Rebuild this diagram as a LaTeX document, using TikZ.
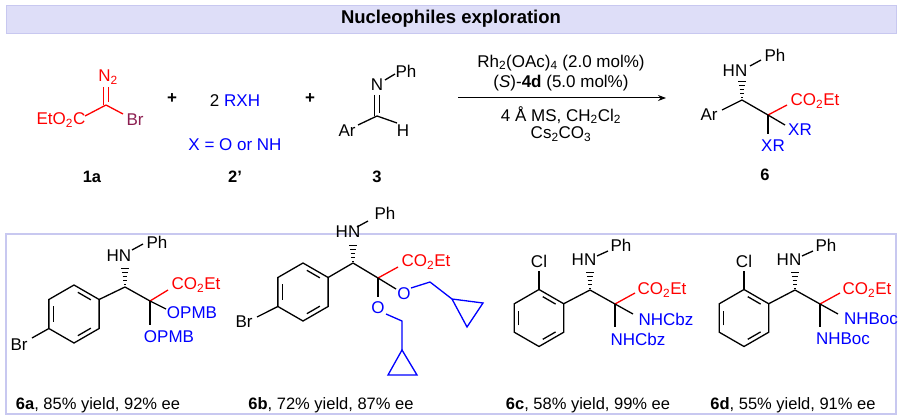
\documentclass[tikz,border=0pt]{standalone}
\usepackage{fontspec}
\setmainfont{Liberation Sans}
\usetikzlibrary{calc,arrows.meta}
\definecolor{hdrfill}{RGB}{222,222,248}
\definecolor{hdrline}{RGB}{200,200,240}
\definecolor{brc}{RGB}{140,30,80}
\definecolor{rd}{RGB}{255,0,0}
\definecolor{bl}{RGB}{0,0,255}
\tikzset{
  bond/.style={line width=1.3pt},
  lbl/.style={inner sep=0.5pt,font=\fontsize{17}{19}\selectfont},
  captxt/.style={inner sep=0pt,font=\fontsize{16.5}{19}\selectfont},
}
% hashed bond from stereocentre #1 towards #2
\newcommand\hashb[2]{\foreach \t/\w in {0.1/0.8,0.3/1.6,0.5/2.4,0.7/3.2,0.9/4}{\draw[line width=1pt] ($(#1)!\t!(#2)+(-\w,0)$) -- ($(#1)!\t!(#2)+(\w,0)$);}}
% benzene ring: centre, radius
\newcommand\benz[2]{%
  \draw[bond] ($(#1)+(30:#2)$) -- ($(#1)+(90:#2)$) -- ($(#1)+(150:#2)$) -- ($(#1)+(210:#2)$) -- ($(#1)+(270:#2)$) -- ($(#1)+(330:#2)$) -- cycle;
  \foreach \a in {30,150,270}{\draw[bond] ($(#1)+(\a+10:0.76*#2)$) -- ($(#1)+(\a+50:0.76*#2)$);}}
\begin{document}
\begin{tikzpicture}[x=1pt,y=-1pt]
\useasboundingbox (0,0) rectangle (902,417);
% header and frame
\draw[hdrline,fill=hdrfill] (6,5) rectangle (896,33);
\node[font=\fontsize{18.5}{20}\selectfont\bfseries] (title) at (451,19) {Nucleophiles exploration};
\draw[hdrline,line width=1.5pt] (6,234) rectangle (896,414);

% 1a
\coordinate (c1) at (106,105);
\node[lbl,rd] (n2) at (108,77) {N\textsubscript{2}};
\draw[bond,rd] (103.5,87) -- (103.5,105) (108.5,87) -- (108.5,102);
\node[lbl,rd] (est1) at (61,120) {EtO\textsubscript{2}C};
\node[lbl,brc] (br1) at (135,120) {Br};
\draw[bond,rd] (c1) -- (85,116);
\draw[bond,rd] (c1) -- (123,114);
\node[captxt] (l1a) at (92,177) {\textbf{1a}};
\node[lbl] (p1) at (172,99) {\textbf{+}};

% 2'
\node[lbl] (rxh) at (235,101) {2 \textcolor{bl}{RXH}};
\node[lbl,bl] (xdef) at (235,145) {X = O or NH};
\node[captxt] (l2) at (235,177) {\textbf{2'}};
\node[lbl] (p2) at (310,99) {\textbf{+}};

% 3
\node[lbl] (n3) at (377,85) {N};
\node[lbl] (ph3) at (406,71) {Ph};
\coordinate (c3) at (377,116);
\draw[bond] (385,80) -- (395,74);
\draw[bond] (374.5,95) -- (374.5,116) (379.5,95) -- (379.5,113);
\node[lbl] (ar3) at (347,131) {Ar};
\node[lbl] (h3) at (403,131) {H};
\draw[bond] (c3) -- (358,125);
\draw[bond] (c3) -- (397,123);
\node[captxt] (l3) at (377,177) {\textbf{3}};

% arrow and conditions
\coordinate (a0) at (458,98);
\coordinate (a1) at (666,98);
\draw[line width=1pt,-{Stealth[length=8pt,width=6pt]}] (a0) -- (a1);
\node[lbl] (cond1) at (561,63) {Rh\textsubscript{2}(OAc)\textsubscript{4} (2.0 mol\%)};
\node[lbl] (cond2) at (561,83) {(\textit{S})-\textbf{4d} (5.0 mol\%)};
\node[lbl] (cond3) at (561,115) {4 Å MS, CH\textsubscript{2}Cl\textsubscript{2}};
\node[lbl] (cond4) at (561,134) {Cs\textsubscript{2}CO\textsubscript{3}};

% 6
\coordinate (s6) at (742,100);
\coordinate (q6) at (768,115);
\node[lbl] (hn6) at (735,71) {HN};
\node[lbl] (ph6) at (775,55) {Ph};
\draw[bond] (750,66) -- (761,60);
\hashb{s6}{742,80}
\node[lbl] (ar6) at (709,115) {Ar};
\draw[bond] (s6) -- (722,110);
\draw[bond] (s6) -- (q6);
\draw[bond,rd] (q6) -- (787,105);
\node[lbl,rd] (co6) at (815,101) {CO\textsubscript{2}Et};
\draw[bond] (q6) -- (785,125);
\node[lbl,bl] (xr6a) at (800,130) {XR};
\draw[bond] (q6) -- (768,134);
\node[lbl,bl] (xr6b) at (773,146) {XR};
\node[captxt] (l6) at (765,175) {\textbf{6}};

% 6a
\coordinate (r6a) at (74,314);
\benz{r6a}{29}
\coordinate (s6a) at (125,287);
\coordinate (q6a) at (150,301);
\draw[bond] ($(r6a)+(330:29)$) -- (s6a);
\draw[bond] ($(r6a)+(150:29)$) -- (32,338);
\node[lbl] (br6a) at (19,345) {Br};
\node[lbl] (hn6a) at (119,256) {HN};
\node[lbl] (ph6a) at (157,242) {Ph};
\draw[bond] (132,250) -- (143,244);
\hashb{s6a}{125,266}
\draw[bond] (s6a) -- (q6a);
\draw[bond,rd] (q6a) -- (168,290);
\node[lbl,rd] (co6a) at (196,285) {CO\textsubscript{2}Et};
\draw[bond] (q6a) -- (166,309);
\node[lbl,bl] (o6a1) at (192,313) {OPMB};
\draw[bond] (q6a) -- (150,325);
\node[lbl,bl] (o6a2) at (169,337) {OPMB};
\node[captxt] (l6a) at (98,405) {\textbf{6a}, 85\% yield, 92\% ee};

% 6b
\coordinate (r6b) at (303,292);
\benz{r6b}{29}
\coordinate (s6b) at (353,263);
\coordinate (q6b) at (378,278);
\draw[bond] ($(r6b)+(330:29)$) -- (s6b);
\draw[bond] ($(r6b)+(150:29)$) -- (257,317);
\node[lbl] (br6b) at (244,322) {Br};
\node[lbl] (hn6b) at (348,232) {HN};
\node[lbl] (ph6b) at (385,213) {Ph};
\draw[bond] (357,227) -- (368,221);
\hashb{s6b}{353,243}
\draw[bond] (s6b) -- (q6b);
\draw[bond,rd] (q6b) -- (398,267);
\node[lbl,rd] (co6b) at (426,262) {CO\textsubscript{2}Et};
\draw[bond] (q6b) -- (396,289);
\node[lbl,bl] (o6b1) at (404,294) {O};
\draw[bond,bl] (411,288) -- (430,282) -- (452,299);
\draw[bond,bl] (452,299) -- (483,303) -- (467,327) -- cycle;
\draw[bond] (q6b) -- (378,297);
\node[lbl,bl] (o6b2) at (378,308) {O};
\draw[bond,bl] (386,314) -- (402,321) -- (402,350);
\draw[bond,bl] (402,350) -- (388,375) -- (417,375) -- cycle;
\node[captxt] (l6b) at (331,405) {\textbf{6b}, 72\% yield, 87\% ee};

% 6c and 6d
\foreach \dx/\nm/\pg/\yl/\ee in {0/c/Cbz/58/99,205/d/Boc/55/91}{
  \begin{scope}[xshift=\dx]
  \coordinate (r6\nm) at (539,318);
  \benz{r6\nm}{28.5}
  \coordinate (s6\nm) at (590,290);
  \coordinate (q6\nm) at (615,304);
  \draw[bond] ($(r6\nm)+(330:28.5)$) -- (s6\nm);
  \draw[bond] ($(r6\nm)+(270:28.5)$) -- (539,271);
  \node[lbl] (cl6\nm) at (539,261) {Cl};
  \node[lbl] (hn6\nm) at (584,260) {HN};
  \node[lbl] (ph6\nm) at (621,245) {Ph};
  \draw[bond] (597,256) -- (608,251);
  \hashb{s6\nm}{590,270}
  \draw[bond] (s6\nm) -- (q6\nm);
  \draw[bond,rd] (q6\nm) -- (635,293);
  \node[lbl,rd] (co6\nm) at (662,290) {CO\textsubscript{2}Et};
  \draw[bond] (q6\nm) -- (633,314);
  \node[lbl,bl] (x6\nm1) at (666,319) {NH\pg};
  \draw[bond] (q6\nm) -- (615,327);
  \node[lbl,bl] (x6\nm2) at (638,339) {NH\pg};
  \node[captxt] (l6\nm) at (588,405) {\textbf{6\nm}, \yl\% yield, \ee\% ee};
  \end{scope}}
\end{tikzpicture}
\end{document}
